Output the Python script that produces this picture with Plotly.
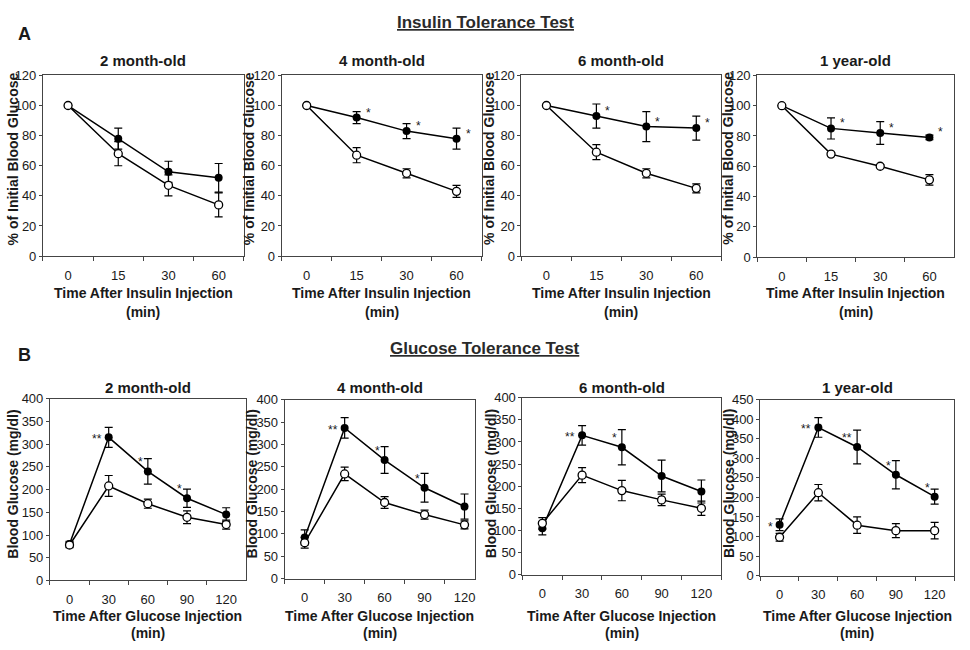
import plotly.graph_objects as go

W, H = 970, 650

# ---------------- data ----------------
itt_cats = ["0", "15", "30", "60"]
gtt_cats = ["0", "30", "60", "90", "120"]
ages = ["2 month-old", "4 month-old", "6 month-old", "1 year-old"]

# Insulin tolerance test (% of initial blood glucose)
itt_2m_filled = [100, 78, 56, 52]
itt_2m_filled_err = [0, 7, 7, 9.5]
itt_2m_open = [100, 68, 47, 34]
itt_2m_open_err = [0, 8, 7, 8]
itt_2m_sig = ["", "", "", ""]

itt_4m_filled = [100, 92, 83, 78]
itt_4m_filled_err = [0, 4, 5, 7]
itt_4m_open = [100, 67, 55, 43]
itt_4m_open_err = [0, 5, 3, 4]
itt_4m_sig = ["", "*", "*", "*"]

itt_6m_filled = [100, 93, 86, 85]
itt_6m_filled_err = [0, 8, 10, 8]
itt_6m_open = [100, 69, 55, 45]
itt_6m_open_err = [0, 5, 3, 3]
itt_6m_sig = ["", "*", "*", "*"]

itt_1y_filled = [100, 85, 82, 79]
itt_1y_filled_err = [0, 7, 7.5, 1.5]
itt_1y_open = [100, 68, 60, 51]
itt_1y_open_err = [0, 1, 1, 3.5]
itt_1y_sig = ["", "*", "*", "*"]

# Glucose tolerance test (mg/dl)
gtt_2m_filled = [80, 315, 240, 181, 145]
gtt_2m_filled_err = [6, 22, 28, 20, 15]
gtt_2m_open = [78, 208, 169, 139, 123]
gtt_2m_open_err = [6, 23, 10, 14, 10]
gtt_2m_sig = ["", "**", "*", "*", ""]

gtt_4m_filled = [92, 337, 265, 203, 161]
gtt_4m_filled_err = [17, 23, 30, 32, 28]
gtt_4m_open = [80, 234, 170, 143, 120]
gtt_4m_open_err = [12, 15, 13, 10, 9]
gtt_4m_sig = ["", "**", "*", "*", ""]

gtt_6m_filled = [105, 315, 288, 223, 188]
gtt_6m_filled_err = [15, 22, 40, 36, 26]
gtt_6m_open = [116, 225, 190, 169, 150]
gtt_6m_open_err = [13, 17, 23, 13, 16]
gtt_6m_sig = ["", "**", "*", "", ""]

gtt_1y_filled = [130, 379, 329, 258, 202]
gtt_1y_filled_err = [15, 25, 43, 36, 19]
gtt_1y_open = [98, 212, 129, 115, 115]
gtt_1y_open_err = [10, 21, 21, 18, 21]
gtt_1y_sig = ["*", "**", "**", "*", "*"]

itt_yticks = [0, 20, 40, 60, 80, 100, 120]
gtt_yticks = [0, 50, 100, 150, 200, 250, 300, 350, 400]
gtt_yticks_1y = [0, 50, 100, 150, 200, 250, 300, 350, 400, 450]

# ---------------- layout helpers ----------------
FONT = "Liberation Sans, Arial, sans-serif"
INK = "#1a1a1a"
AX = "#444444"


def px(x):
    return x / W


def py(y):
    return 1 - y / H


panels = [
    # (cats, filled, ferr, open, oerr, sig, yticks, box(l,t,r,b), xrange, row, y-title x)
    (itt_cats, itt_2m_filled, itt_2m_filled_err, itt_2m_open, itt_2m_open_err, itt_2m_sig, itt_yticks, (43, 70, 244, 255), [-0.5, 3.5], "A", 13),
    (itt_cats, itt_4m_filled, itt_4m_filled_err, itt_4m_open, itt_4m_open_err, itt_4m_sig, itt_yticks, (282, 70, 482, 255), [-0.5, 3.5], "A", 250),
    (itt_cats, itt_6m_filled, itt_6m_filled_err, itt_6m_open, itt_6m_open_err, itt_6m_sig, itt_yticks, (522, 70, 722, 255), [-0.5, 3.5], "A", 490),
    (itt_cats, itt_1y_filled, itt_1y_filled_err, itt_1y_open, itt_1y_open_err, itt_1y_sig, itt_yticks, (758, 70, 955, 256), [-0.5, 3.5], "A", 729),
    (gtt_cats, gtt_2m_filled, gtt_2m_filled_err, gtt_2m_open, gtt_2m_open_err, gtt_2m_sig, gtt_yticks, (50, 401, 246, 587), [-0.5, 4.5], "B", 13),
    (gtt_cats, gtt_4m_filled, gtt_4m_filled_err, gtt_4m_open, gtt_4m_open_err, gtt_4m_sig, gtt_yticks, (285, 402, 475, 585), [-0.5, 4.25], "B", 252),
    (gtt_cats, gtt_6m_filled, gtt_6m_filled_err, gtt_6m_open, gtt_6m_open_err, gtt_6m_sig, gtt_yticks, (523, 400, 722, 581), [-0.5, 4.5], "B", 491),
    (gtt_cats, gtt_1y_filled, gtt_1y_filled_err, gtt_1y_open, gtt_1y_open_err, gtt_1y_sig, gtt_yticks_1y, (761, 402, 955, 582), [-0.5, 4.5], "B", 729),
]

fig = go.Figure()
annotations = []
layout = dict(
    width=W, height=H, autosize=False,
    margin=dict(l=0, r=0, t=0, b=0),
    paper_bgcolor="white", plot_bgcolor="white",
    showlegend=False,
    font=dict(family=FONT, color=INK),
)

for i, (cats, fv, fe, ov, oe, sig, yt, box, xr, row, ytx) in enumerate(panels):
    n = i + 1
    xa = "x" if n == 1 else f"x{n}"
    ya = "y" if n == 1 else f"y{n}"
    l, t, r, b = box
    layout["xaxis" if n == 1 else f"xaxis{n}"] = dict(
        domain=[px(l), px(r)], anchor=ya, type="category",
        categoryorder="array", categoryarray=cats, range=xr,
        tickson="boundaries", ticks="outside", ticklen=4, tickcolor=AX,
        showline=True, linecolor=AX, linewidth=1, mirror=True,
        showgrid=False, zeroline=False,
        tickfont=dict(family=FONT, size=13, color=INK),
        ticklabelstandoff=7, fixedrange=True,
    )
    layout["yaxis" if n == 1 else f"yaxis{n}"] = dict(
        domain=[py(b), py(t)], anchor=xa, range=[yt[0], yt[-1]],
        tickvals=yt, ticks="outside", ticklen=3, tickcolor=AX,
        showline=True, linecolor=AX, linewidth=1, mirror=True,
        showgrid=False, zeroline=False,
        tickfont=dict(family=FONT, size=13, color=INK),
        ticklabelstandoff=0, fixedrange=True,
    )
    # filled series
    fig.add_trace(go.Scatter(
        x=cats, y=fv, xaxis=xa, yaxis=ya, mode="lines+markers",
        line=dict(color="black", width=1.5),
        marker=dict(symbol="circle", size=8, color="black"),
        error_y=dict(type="data", array=fe, visible=True, color="black", thickness=1.2, width=4),
        cliponaxis=False,
    ))
    # open series
    fig.add_trace(go.Scatter(
        x=cats, y=ov, xaxis=xa, yaxis=ya, mode="lines+markers",
        line=dict(color="black", width=1.5),
        marker=dict(symbol="circle", size=8, color="white", line=dict(color="black", width=1.3)),
        error_y=dict(type="data", array=oe, visible=True, color="black", thickness=1.2, width=4),
        cliponaxis=False,
    ))
    # significance marks (x given as category index)
    for k, s in enumerate(sig):
        if not s:
            continue
        if row == "A":
            xs, ys, xanc = 7, 5, "left"
        elif k <= 1:
            xs, ys, xanc = -5, -2, "right"
        else:
            xs, ys, xanc = -3, 9, "right"
        annotations.append(dict(
            x=k, y=fv[k], xref=xa, yref=ya, text=s, showarrow=False,
            xanchor=xanc, yanchor="middle", xshift=xs, yshift=ys,
            font=dict(family=FONT, size=12, color=INK),
        ))
    # panel title
    ttl_y = 55 if row == "A" else 389
    annotations.append(dict(
        x=px((l + r) / 2), y=py(ttl_y), xref="paper", yref="paper",
        text=f"<b>{ages[i % 4]}</b>", showarrow=False,
        xanchor="center", yanchor="middle",
        font=dict(family=FONT, size=15, color=INK),
    ))
    # x-axis title (two lines)
    inj = "Insulin" if row == "A" else "Glucose"
    l1, l2 = (293, 312) if row == "A" else (623, 641)
    annotations.append(dict(
        x=px((l + r) / 2), y=py(l1), xref="paper", yref="paper",
        text=f"<b>Time After {inj} Injection</b>", showarrow=False,
        xanchor="center", yanchor="middle",
        font=dict(family=FONT, size=14, color=INK),
    ))
    annotations.append(dict(
        x=px((l + r) / 2), y=py(l2), xref="paper", yref="paper",
        text="<b>(min)</b>", showarrow=False,
        xanchor="center", yanchor="middle",
        font=dict(family=FONT, size=14, color=INK),
    ))
    # y-axis title
    ytxt = "% of Initial Blood Glucose" if row == "A" else "Blood Glucose (mg/dl)"
    ycen = 155 if row == "A" else 488
    annotations.append(dict(
        x=px(ytx), y=py(ycen), xref="paper", yref="paper",
        text=f"<b>{ytxt}</b>", showarrow=False, textangle=-90,
        xanchor="center", yanchor="middle",
        font=dict(family=FONT, size=14, color=INK),
    ))

# section headers
annotations += [
    dict(x=px(25), y=py(28), xref="paper", yref="paper", text="<b>A</b>", showarrow=False,
         xanchor="center", yanchor="middle", font=dict(family=FONT, size=18, color=INK)),
    dict(x=px(25), y=py(356), xref="paper", yref="paper", text="<b>B</b>", showarrow=False,
         xanchor="center", yanchor="middle", font=dict(family=FONT, size=18, color=INK)),
    dict(x=px(486), y=py(16), xref="paper", yref="paper", text="<b><u>Insulin Tolerance Test</u></b>",
         showarrow=False, xanchor="center", yanchor="middle", font=dict(family=FONT, size=17, color="#2a2a2a")),
    dict(x=px(485), y=py(350), xref="paper", yref="paper", text="<b><u>Glucose Tolerance Test</u></b>",
         showarrow=False, xanchor="center", yanchor="middle", font=dict(family=FONT, size=17, color="#2a2a2a")),
]
layout["annotations"] = annotations
fig.update_layout(**layout)

fig.write_html(
    "out.html", include_plotlyjs=True, config={"displayModeBar": False},
    post_script="document.body.style.margin='0';document.body.style.overflow='hidden';",
)
